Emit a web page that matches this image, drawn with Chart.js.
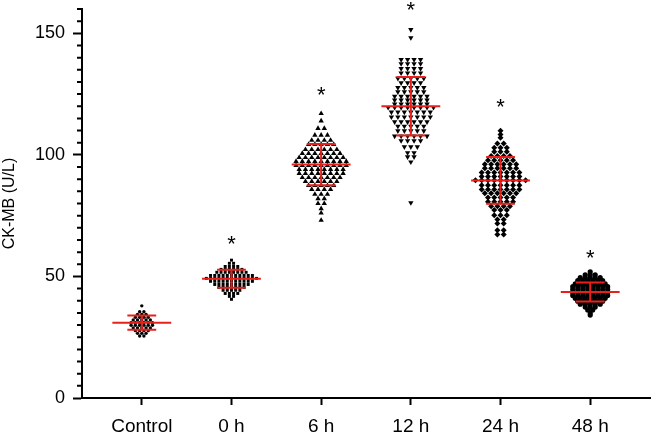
<!DOCTYPE html>
<html>
<head>
<meta charset="utf-8">
<script src="https://cdn.jsdelivr.net/npm/chart.js@4.4.0/dist/chart.umd.min.js"></script>
<style>
  html, body { margin: 0; padding: 0; background: #fff; }
</style>
</head>
<body>
<canvas id="chart" width="654" height="437"></canvas>
<script>
const groups = ["Control", "0 h", "6 h", "12 h", "24 h", "48 h"];

// CK-MB (U/L) values, row by row (top to bottom)
const control = [37.9, 35.5, 35.5, 34.4, 34.4, 34.4, 33.2, 33.2, 33.2, 33.2, 32.1, 32.1, 32.1, 32.1, 32.1,
  31.0, 31.0, 31.0, 31.0, 31.0, 31.0, 29.9, 29.9, 29.9, 29.9, 29.9, 29.9, 28.8, 28.8, 28.8, 28.8, 28.8,
  27.7, 27.7, 27.7, 27.7, 26.6, 26.6, 26.6, 25.5, 25.5];
const h0 = [56.7, 55.4, 55.4, 54.1, 54.1, 54.1, 54.1, 52.9, 52.9, 52.9, 52.9, 52.9, 52.9,
  51.7, 51.7, 51.7, 51.7, 51.7, 51.7, 51.7, 51.7,
  50.4, 50.4, 50.4, 50.4, 50.4, 50.4, 50.4, 50.4, 50.4, 50.4, 50.4,
  49.2, 49.2, 49.2, 49.2, 49.2, 49.2, 49.2, 49.2, 49.2, 49.2, 49.2, 49.2, 49.2,
  48.0, 48.0, 48.0, 48.0, 48.0, 48.0, 48.0, 48.0, 48.0, 48.0, 48.0,
  46.7, 46.7, 46.7, 46.7, 46.7, 46.7, 46.7, 46.7, 46.7,
  45.5, 45.5, 45.5, 45.5, 45.5, 45.5, 45.5, 44.3, 44.3, 44.3, 44.3, 44.3,
  43.0, 43.0, 43.0, 43.0, 41.8, 41.8, 40.6];
const h6 = [117.0, 114.0, 110.9, 110.9, 108.1, 108.1, 108.1, 106.0, 106.0, 106.0, 106.0,
  104.3, 104.3, 104.3, 104.3, 104.3, 102.2, 102.2, 102.2, 102.2, 102.2, 102.2,
  100.6, 100.6, 100.6, 100.6, 100.6, 100.6, 100.6, 98.9, 98.9, 98.9, 98.9, 98.9, 98.9, 98.9, 98.9,
  97.3, 97.3, 97.3, 97.3, 97.3, 97.3, 97.3, 97.3, 97.3, 95.6, 95.6, 95.6, 95.6, 95.6, 95.6, 95.6, 95.6, 95.6,
  94.0, 94.0, 94.0, 94.0, 94.0, 94.0, 94.0, 94.0, 92.4, 92.4, 92.4, 92.4, 92.4, 92.4, 92.4, 92.4,
  90.7, 90.7, 90.7, 90.7, 90.7, 90.7, 90.7, 89.1, 89.1, 89.1, 89.1, 89.1, 89.1,
  87.4, 87.4, 87.4, 87.4, 87.4, 85.8, 85.8, 85.8, 85.8, 83.8, 83.8, 83.8, 82.0, 82.0,
  80.0, 80.0, 77.9, 76.1, 73.1];
const h12 = [151.5, 148.2, 139.2, 139.2, 139.2, 139.2, 137.5, 137.5, 137.5, 137.5, 135.5, 135.5, 135.5, 135.5,
  133.7, 133.7, 133.7, 133.7, 131.5, 131.5, 131.5, 131.5, 131.5, 129.6, 129.6, 129.6, 129.6,
  127.7, 127.7, 127.7, 127.7, 127.7, 125.9, 125.9, 125.9, 125.9, 125.9,
  124.1, 124.1, 124.1, 124.1, 124.1, 124.1, 122.5, 122.5, 122.5, 122.5, 122.5, 122.5,
  120.9, 120.9, 120.9, 120.9, 120.9, 120.9, 119.5, 119.5, 119.5, 119.5, 119.5, 119.5, 119.5, 119.5,
  117.6, 117.6, 117.6, 117.6, 117.6, 117.6, 117.6, 115.6, 115.6, 115.6, 115.6, 115.6, 115.6, 115.6,
  113.6, 113.6, 113.6, 113.6, 113.6, 113.6, 111.8, 111.8, 111.8, 111.8, 111.8,
  109.9, 109.9, 109.9, 109.9, 109.9, 107.7, 107.7, 107.7, 107.7, 107.7, 107.7,
  105.8, 105.8, 105.8, 105.8, 103.3, 103.3, 103.3, 100.9, 100.9, 99.2, 99.2, 97.1, 80.3];
const h24 = [109.9, 108.4, 107.0, 104.7, 104.7, 102.9, 102.9, 102.9, 101.3, 101.3, 101.3,
  99.5, 99.5, 99.5, 99.5, 97.8, 97.8, 97.8, 97.8, 97.8, 96.1, 96.1, 96.1, 96.1, 96.1, 96.1,
  94.5, 94.5, 94.5, 94.5, 94.5, 94.5, 92.7, 92.7, 92.7, 92.7, 92.7, 92.7, 92.7,
  91.1, 91.1, 91.1, 91.1, 91.1, 91.1, 91.1, 89.6, 89.6, 89.6, 89.6, 89.6, 89.6, 89.6, 89.6, 89.6,
  87.5, 87.5, 87.5, 87.5, 87.5, 87.5, 87.5, 85.8, 85.8, 85.8, 85.8, 85.8, 85.8, 85.8,
  84.2, 84.2, 84.2, 84.2, 84.2, 84.2, 82.5, 82.5, 82.5, 82.5, 82.5, 80.7, 80.7, 80.7, 80.7, 80.7,
  78.9, 78.9, 78.9, 78.9, 77.3, 77.3, 77.3, 75.2, 75.2, 75.2, 73.4, 73.4, 71.8, 71.8,
  69.0, 69.0, 67.2, 67.2];
const h48 = [51.9, 50.7, 50.7, 50.7, 49.5, 49.5, 49.5, 49.5, 49.5, 48.3, 48.3, 48.3, 48.3, 48.3, 48.3,
  47.0, 47.0, 47.0, 47.0, 47.0, 47.0, 47.0, 45.8, 45.8, 45.8, 45.8, 45.8, 45.8, 45.8, 45.8,
  44.6, 44.6, 44.6, 44.6, 44.6, 44.6, 44.6, 44.6, 43.4, 43.4, 43.4, 43.4, 43.4, 43.4, 43.4, 43.4,
  42.2, 42.2, 42.2, 42.2, 42.2, 42.2, 42.2, 42.2, 41.0, 41.0, 41.0, 41.0, 41.0, 41.0, 41.0,
  39.8, 39.8, 39.8, 39.8, 39.8, 39.8, 38.6, 38.6, 38.6, 38.6, 38.6, 37.4, 37.4, 37.4,
  36.2, 36.2, 35.0, 34.1];

const series = [control, h0, h6, h12, h24, h48];
const means = [31, 49, 96, 120, 89.5, 43.6];
const sds = [2.9, 3.7, 8.5, 12, 9.6, 3.9];
const stars = [null, 65, 126, 161, 121, 59];   // where the "*" sits above each group
const yTicks = [0, 50, 100, 150];

// marker look per group
const shapes = ["circle", "rect", "triangle", "triangle", "rectRot", "circle"];
const rotations = [0, 0, 0, 180, 0, 0];
const radii = [1.7, 2.1, 3.1, 3.1, 3.0, 2.6];
const gaps = [4.3, 4.2, 6.3, 6.5, 6.3, 5.0];   // px between neighbours in a row

const RED = "#e8201c";
const FONT = "'Liberation Sans', Arial, sans-serif";

// points with the same value sit side by side in one row, centred on the group
function rows(vals, center, gap, pxX) {
  const byVal = new Map();
  vals.forEach(v => byVal.set(v, (byVal.get(v) || 0) + 1));
  const pts = [];
  byVal.forEach((n, v) => {
    for (let j = 0; j < n; j++) pts.push({ x: center + (j - (n - 1) / 2) * gap / pxX, y: v });
  });
  return pts;
}

const errorBars = {
  id: "errorBars",
  afterDatasetsDraw(chart) {
    const { ctx, scales: { x, y } } = chart;
    ctx.save();
    ctx.strokeStyle = RED;
    ctx.lineWidth = 2;
    means.forEach((m, i) => {
      const c = i + 1;
      const top = y.getPixelForValue(m + sds[i]);
      const bot = y.getPixelForValue(m - sds[i]);
      const my = y.getPixelForValue(m);
      ctx.beginPath();
      ctx.moveTo(x.getPixelForValue(c - 0.328), my);
      ctx.lineTo(x.getPixelForValue(c + 0.328), my);
      ctx.moveTo(x.getPixelForValue(c - 0.161), top);
      ctx.lineTo(x.getPixelForValue(c + 0.161), top);
      ctx.moveTo(x.getPixelForValue(c - 0.161), bot);
      ctx.lineTo(x.getPixelForValue(c + 0.161), bot);
      ctx.moveTo(x.getPixelForValue(c), top);
      ctx.lineTo(x.getPixelForValue(c), bot);
      ctx.stroke();
    });
    // significance marks
    const size = 22;
    ctx.fillStyle = "#000";
    ctx.font = size + "px " + FONT;
    ctx.textAlign = "center";
    ctx.textBaseline = "alphabetic";
    stars.forEach((s, i) => {
      if (s === null) return;
      ctx.fillText("*", x.getPixelForValue(i + 1), y.getPixelForValue(s) + 0.57 * size - 2);
    });
    ctx.restore();
  },
  afterDraw(chart) {
    // minor ticks every 5 U/L on the y axis
    const { ctx, scales: { y } } = chart;
    ctx.save();
    ctx.strokeStyle = "#000";
    ctx.lineWidth = 2;
    ctx.beginPath();
    for (let v = 5; v <= 160; v += 5) {
      if (v % 50 === 0) continue;
      const py = y.getPixelForValue(v);
      ctx.moveTo(y.right - 5, py);
      ctx.lineTo(y.right, py);
    }
    ctx.stroke();
    ctx.restore();
  }
};

const chart = new Chart(document.getElementById("chart"), {
  type: "scatter",
  data: {
    datasets: series.map((s, i) => ({
      data: [],
      pointStyle: shapes[i],
      rotation: rotations[i],
      radius: radii[i],
      backgroundColor: "#000",
      borderColor: "#000",
      borderWidth: 0,
      clip: false
    }))
  },
  options: {
    responsive: false,
    animation: false,
    events: [],
    layout: { padding: { top: 9, right: 2, left: 0, bottom: 0 } },
    plugins: { legend: { display: false }, tooltip: { enabled: false } },
    scales: {
      x: {
        type: "linear",
        min: 1 / 3,
        max: 20 / 3,
        afterBuildTicks: s => { s.ticks = groups.map((g, i) => ({ value: i + 1 })); },
        afterFit: s => { s.height = 39; s.paddingLeft = 0; s.paddingRight = 0; },
        ticks: {
          callback: v => groups[v - 1],
          color: "#000",
          font: { family: FONT, size: 19 },
          padding: 10,
          maxRotation: 0
        },
        grid: { drawOnChartArea: false, tickLength: 7, tickWidth: 2, tickColor: "#000" },
        border: { color: "#000", width: 2 }
      },
      y: {
        min: 0,
        max: 160,
        afterBuildTicks: s => { s.ticks = yTicks.map(v => ({ value: v })); },
        afterFit: s => { s.width = 82; s.paddingTop = 0; s.paddingBottom = 0; },
        ticks: { color: "#000", font: { family: FONT, size: 18 }, padding: 8 },
        grid: { drawOnChartArea: false, tickLength: 9, tickWidth: 2, tickColor: "#000" },
        border: { color: "#000", width: 2 },
        title: {
          display: true,
          text: "CK-MB (U/L)",
          color: "#000",
          font: { family: FONT, size: 16 },
          padding: 0
        }
      }
    }
  },
  plugins: [errorBars]
});

const xs = chart.scales.x;
const pxX = Math.abs(xs.getPixelForValue(1) - xs.getPixelForValue(0));
chart.data.datasets.forEach((ds, i) => { ds.data = rows(series[i], i + 1, gaps[i], pxX); });
chart.update();
</script>
</body>
</html>
